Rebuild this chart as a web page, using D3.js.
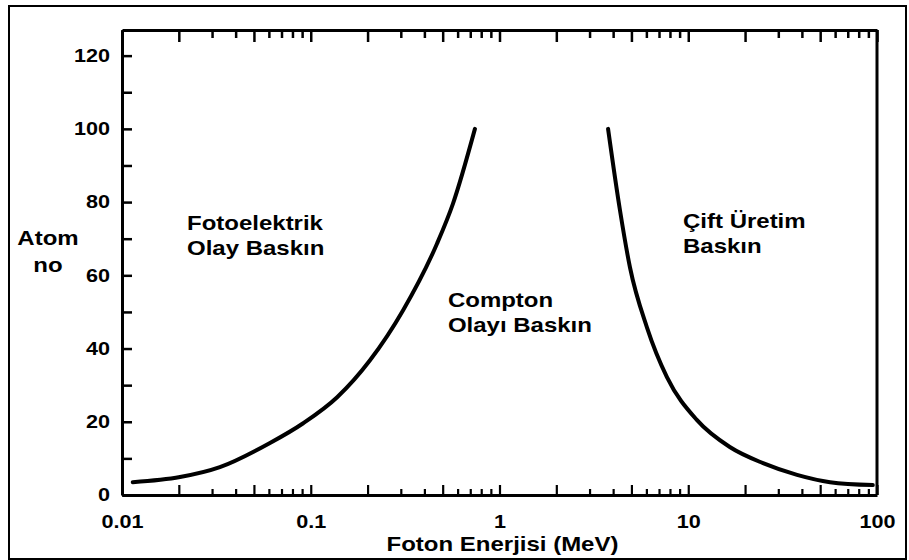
<!DOCTYPE html>
<html>
<head>
<meta charset="utf-8">
<script src="https://cdn.jsdelivr.net/npm/d3@7"></script>
<style>
	body{margin:0;background:#fff;}
	#chart{width:909px;height:560px;}
	text{font-family:"Liberation Sans", Arial, sans-serif;font-weight:bold;fill:#000;}
	.axis path,.axis line{stroke:#000;}
</style>
</head>
<body>
<div id="chart"></div>
<script>
// photoelectric / compton boundary (left curve)
const photoE = [0.0114, 0.0203, 0.033, 0.0608, 0.0912, 0.138, 0.206, 0.308, 0.467, 0.567, 0.741];
const photoZ = [3.5, 4.9, 7.6, 14.2, 19.6, 26.7, 36.8, 50.4, 68.7, 79.6, 100];

// compton / pair production boundary (right curve)
const pairE = [3.76, 4.35, 4.91, 6.04, 7.71, 11.1, 16.6, 24.9, 37.7, 56.4, 95];
const pairZ = [100, 77.7, 62.2, 45.8, 32.2, 20.5, 13.1, 8.7, 5.5, 3.5, 2.7];

const xTickLabels = [0.01, 0.1, 1, 10, 100];
const yTickLabels = [0, 20, 40, 60, 80, 100, 120];

const regionLabels = [
	{lines:["Fotoelektrik","Olay Baskın"], e:0.0221, z:72.4},
	{lines:["Compton","Olayı Baskın"], e:0.533, z:51.3},
	{lines:["Çift Üretim","Baskın"], e:9.38, z:72.9}
];

const xTitle = "Foton Enerjisi (MeV)";
const yTitle = ["Atom","no"];

class InteractionChart{
	constructor(opts){
		this.el = opts.el;
		this.margin = {top:30,right:32,bottom:65,left:122};
		this.width = 909;
		this.height = 560;
		this.innerW = this.width - this.margin.left - this.margin.right;
		this.innerH = this.height - this.margin.top - this.margin.bottom;
		this.stretch = 1.2;

		this.x = d3.scaleLog().domain([0.01,100]).range([0,this.innerW]);
		this.y = d3.scaleLinear().domain([0,127]).range([this.innerH,0]);

		this.svg = d3.select(this.el).append('svg')
			.attr('width',this.width)
			.attr('height',this.height);

		// frame round the whole picture
		this.svg.append('rect')
			.attr('x',9).attr('y',6)
			.attr('width',897).attr('height',553)
			.style('fill','none').style('stroke','#000').style('stroke-width',2);

		this.g = this.svg.append('g')
			.attr('transform',`translate(${this.margin.left},${this.margin.top})`);

		this.drawAxes();
		this.drawCurve(photoE, photoZ);
		this.drawCurve(pairE, pairZ);
		this.drawLabels();
	}

	drawAxes(){
		const s = this.stretch;
		let logTicks = [];
		[0.01,0.1,1,10].forEach(d => {
			for(let k=1;k<10;k++) logTicks.push(+(d*k).toPrecision(3));
		});
		logTicks.push(100);

		const tickLen = d => {
			let m = d / Math.pow(10, Math.floor(Math.log10(d)+1e-9));
			m = Math.round(m);
			return (m==1 || m==2 || m==5) ? 10 : 6;
		};

		let bottom = this.g.append('g')
			.attr('class','axis x')
			.attr('transform',`translate(0,${this.innerH})`)
			.call(d3.axisBottom(this.x)
				.tickValues(logTicks)
				.tickSizeOuter(0)
				.tickPadding(14)
				.tickFormat(d => xTickLabels.indexOf(d) > -1 ? d : ""));
		bottom.selectAll('line').attr('y2',d => -tickLen(d)).style('stroke-width',2.2);
		bottom.select('.domain').style('stroke-width',3);
		bottom.selectAll('text')
			.style('font-size','18px')
			.attr('transform',`scale(${s},1)`);

		let top = this.g.append('g')
			.attr('class','axis x-top')
			.call(d3.axisTop(this.x)
				.tickValues(logTicks)
				.tickSizeOuter(0)
				.tickFormat(""));
		top.selectAll('line').attr('y2',d => tickLen(d)+2).style('stroke-width',2.5);
		top.select('.domain').style('stroke-width',3);

		let left = this.g.append('g')
			.attr('class','axis y')
			.call(d3.axisLeft(this.y)
				.tickValues(d3.range(0,121,10))
				.tickSizeInner(-10)
				.tickSizeOuter(0)
				.tickPadding(10)
				.tickFormat(d => yTickLabels.indexOf(d) > -1 ? d : ""));
		left.selectAll('line').style('stroke-width',2.5);
		left.select('.domain').style('stroke-width',3);
		left.selectAll('text')
			.style('font-size','18px')
			.attr('transform',`scale(${s},1)`);

		// right edge, no ticks
		this.g.append('line')
			.attr('x1',this.innerW).attr('x2',this.innerW)
			.attr('y1',0).attr('y2',this.innerH)
			.style('stroke','#000').style('stroke-width',3);

		this.svg.append('text')
			.attr('transform',`translate(${this.margin.left + this.innerW/2 + 3},551) scale(${s},1)`)
			.attr('text-anchor','middle')
			.style('font-size','20px')
			.text(xTitle);

		let yt = this.svg.append('text')
			.attr('transform',`translate(48,245) scale(${s},1)`)
			.attr('text-anchor','middle')
			.style('font-size','20px');
		yt.selectAll('tspan').data(yTitle).enter().append('tspan')
			.attr('x',0)
			.attr('dy',(d,i) => i ? 27 : 0)
			.text(d => d);
	}

	drawCurve(es, zs){
		const pts = es.map((e,i) => [e, zs[i]]);
		const line = d3.line()
			.x(d => this.x(d[0]))
			.y(d => this.y(d[1]))
			.curve(d3.curveMonotoneX);
		this.g.append('path')
			.datum(pts)
			.attr('d',line)
			.style('fill','none')
			.style('stroke','#000')
			.style('stroke-width',4)
			.style('stroke-linecap','round');
	}

	drawLabels(){
		const s = this.stretch;
		regionLabels.forEach(l => {
			let t = this.g.append('text')
				.attr('transform',`translate(${this.x(l.e)},${this.y(l.z)}) scale(${s},1)`)
				.style('font-size','20px');
			t.selectAll('tspan').data(l.lines).enter().append('tspan')
				.attr('x',0)
				.attr('dy',(d,i) => i ? 25 : 0)
				.text(d => d);
		});
	}
}

new InteractionChart({el:'#chart'});
</script>
</body>
</html>
